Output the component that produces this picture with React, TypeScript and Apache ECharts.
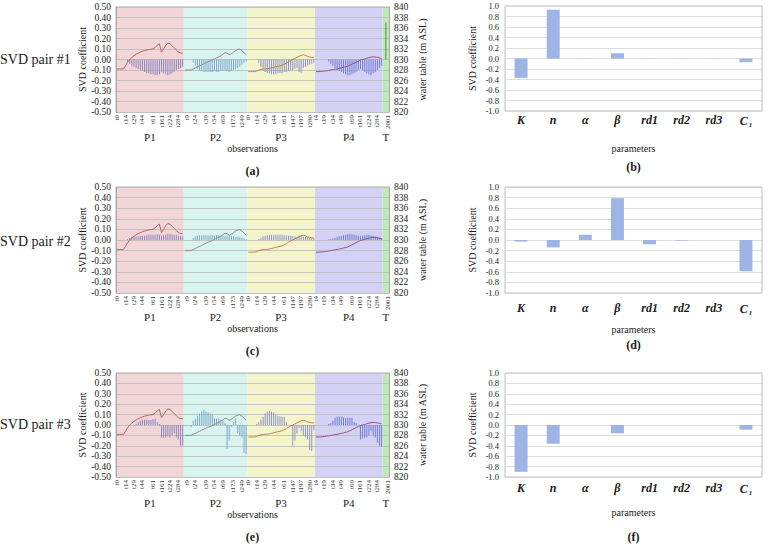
import React, { useEffect, useRef } from "react";
import * as echarts from "echarts";

const FONT = "'Liberation Serif','Times New Roman',Times,serif";

// ---------- observation axis ----------
const PERIOD_NAMES = ["P1", "P2", "P3", "P4", "T"];
const PERIOD_SIZES = [32, 30, 32, 32, 3];
const P1_TICKS = ["t0", "t14", "t29", "t44", "t61", "t161", "t224", "t284"];
const P2_TICKS = ["t9", "t24", "t39", "t54", "t69", "t173", "t249"];
const P3_TICKS = ["t0", "t14", "t29", "t44", "t61", "t147", "t197", "t280"];
const P4_TICKS = ["t4", "t19", "t34", "t49", "t69", "t161", "t224", "t284"];
const T_TICKS = ["2001"];
const TICK_LABELS = [P1_TICKS, P2_TICKS, P3_TICKS, P4_TICKS, T_TICKS];
const TICK_OBS = [
  [0, 4, 8, 12, 17, 21, 25, 29],
  [1, 5, 10, 14, 18, 23, 27],
  [0, 4, 8, 12, 17, 21, 25, 29],
  [0, 4, 8, 12, 17, 21, 25, 29],
  [2],
];

// ---------- water table (m ASL) ----------
const WT_P1 = [828.2, 828.2, 828.2, 828.2, 828.8, 829.5, 830.0, 830.4, 830.7, 831.0, 831.2, 831.4, 831.56, 831.7, 831.8, 831.9, 831.96, 832.0, 832.3, 832.7, 833.0, 831.4, 832.0, 832.7, 833.1, 833.0, 832.6, 832.2, 831.8, 831.4, 831.24, 831.2];
const WT_P2 = [828.0, 828.0, 828.0, 828.0, 828.2, 828.4, 828.6, 828.8, 829.0, 829.2, 829.4, 829.6, 829.7, 829.9, 830.1, 830.3, 830.5, 830.7, 831.0, 831.3, 831.2, 830.9, 831.1, 831.4, 831.7, 831.9, 832.0, 831.7, 831.3, 830.9];
const WT_P3 = [827.7, 827.7, 827.7, 827.7, 827.8, 828.0, 828.1, 828.2, 828.2, 828.24, 828.3, 828.4, 828.5, 828.6, 828.7, 828.8, 828.9, 829.1, 829.3, 829.6, 829.8, 830.0, 830.2, 830.4, 830.6, 830.8, 830.9, 830.8, 830.6, 830.5, 830.4, 830.4];
const WT_P4 = [827.7, 827.7, 827.72, 827.76, 827.8, 827.84, 827.92, 828.0, 828.06, 828.14, 828.2, 828.3, 828.4, 828.5, 828.6, 828.7, 828.9, 829.1, 829.3, 829.5, 829.7, 829.9, 830.0, 830.1, 830.24, 830.36, 830.44, 830.5, 830.48, 830.4, 830.3, 830.2];
const WT = [WT_P1, WT_P2, WT_P3, WT_P4];

// ---------- SVD pair #1 (observation coefficients) ----------
const U1_P1 = [0, 0, 0, 0, 0, -0.02, -0.04, -0.06, -0.07, -0.08, -0.09, -0.1, -0.11, -0.12, -0.13, -0.13, -0.14, -0.14, -0.15, -0.15, -0.14, -0.12, -0.13, -0.14, -0.15, -0.14, -0.13, -0.12, -0.1, -0.09, -0.08, -0.07];
const U1_P2 = [0, 0, 0, 0, -0.03, -0.06, -0.09, -0.1, -0.11, -0.12, -0.12, -0.12, -0.12, -0.12, -0.11, -0.12, -0.12, -0.11, -0.11, -0.1, -0.11, -0.12, -0.11, -0.1, -0.09, -0.08, -0.07, -0.05, -0.03, -0.02];
const U1_P3 = [0, 0, 0, 0, 0, -0.03, -0.07, -0.1, -0.12, -0.13, -0.13, -0.14, -0.14, -0.14, -0.13, -0.13, -0.13, -0.12, -0.12, -0.11, -0.1, -0.1, -0.09, -0.08, -0.12, -0.13, -0.08, -0.07, -0.06, -0.05, -0.04, -0.03];
const U1_P4 = [0, 0, 0, 0, 0, 0, -0.02, -0.04, -0.06, -0.08, -0.1, -0.11, -0.12, -0.13, -0.14, -0.15, -0.15, -0.14, -0.13, -0.12, -0.1, -0.09, -0.1, -0.12, -0.13, -0.14, -0.15, -0.13, -0.12, -0.1, -0.08, -0.06];
const U1_T = [0, 0.35, 0];

// ---------- SVD pair #2 ----------
const U2_P1 = [0, 0, 0, 0, 0, 0.01, 0.02, 0.03, 0.03, 0.03, 0.035, 0.04, 0.04, 0.04, 0.045, 0.05, 0.05, 0.05, 0.05, 0.055, 0.05, 0.04, 0.045, 0.05, 0.06, 0.06, 0.05, 0.05, 0.045, 0.04, 0.04, 0.035];
const U2_P2 = [0, 0, 0, 0, 0.02, 0.035, 0.04, 0.045, 0.045, 0.045, 0.045, 0.045, 0.045, 0.045, 0.04, 0.045, 0.045, 0.04, 0.04, 0.04, 0.04, 0.045, 0.04, 0.035, 0.03, 0.03, 0.025, 0.02, 0.015, 0.01];
const U2_P3 = [0, 0, 0, 0, 0, 0.01, 0.02, 0.035, 0.04, 0.045, 0.05, 0.05, 0.05, 0.05, 0.05, 0.05, 0.05, 0.045, 0.045, 0.04, 0.04, 0.035, 0.035, 0.03, 0.045, 0.045, 0.03, 0.03, 0.025, 0.02, 0.02, 0.015];
const U2_P4 = [0, 0, 0, 0, 0, 0, 0.005, 0.01, 0.015, 0.02, 0.03, 0.035, 0.04, 0.045, 0.05, 0.055, 0.06, 0.055, 0.05, 0.045, 0.04, 0.035, 0.04, 0.045, 0.05, 0.05, 0.045, 0.04, 0.035, 0.03, 0.025, 0.02];
const U2_T = [0, 0, 0];

// ---------- SVD pair #3 ----------
const U3_P1 = [0, 0, 0, 0, 0, 0, 0, 0, 0, 0.01, 0.03, 0.04, 0.05, 0.05, 0.05, 0.05, 0.05, 0.055, 0.06, 0.03, 0.01, -0.12, -0.12, -0.12, -0.11, -0.12, -0.1, -0.08, -0.12, -0.14, -0.2, -0.2];
const U3_P2 = [0, 0, 0, -0.02, 0.04, 0.06, 0.09, 0.11, 0.13, 0.145, 0.13, 0.12, 0.11, 0.1, 0.07, 0.06, 0.06, 0.05, 0.04, 0.02, -0.23, -0.15, -0.02, 0.03, 0.06, -0.08, -0.1, -0.12, -0.27, -0.28];
const U3_P3 = [0, 0, 0, 0, 0.01, 0.03, 0.05, 0.08, 0.11, 0.13, 0.135, 0.13, 0.12, 0.1, 0.09, 0.085, 0.08, 0.08, 0.03, 0, 0, -0.2, -0.15, -0.08, -0.03, -0.06, -0.1, -0.12, -0.14, -0.24, -0.25, -0.05];
const U3_P4 = [0, 0, 0, 0, 0, 0, 0.01, 0.02, 0.04, 0.07, 0.08, 0.08, 0.08, 0.075, 0.07, 0.07, 0.07, 0.07, 0.03, 0.02, 0, -0.14, -0.13, -0.12, -0.12, -0.1, -0.06, -0.1, -0.12, -0.17, -0.2, -0.21];
const U3_T = [0, 0, 0];

// ---------- parameter coefficients ----------
const PARAMS = ["K", "n", "α", "β", "rd1", "rd2", "rd3", "C1"];
const V1 = [-0.37, 0.93, 0.005, 0.1, -0.005, -0.003, -0.002, -0.07];
const V2 = [-0.03, -0.14, 0.1, 0.79, -0.08, -0.01, 0, -0.59];
const V3 = [-0.9, -0.36, 0, -0.16, 0, 0, 0, -0.09];

// ---------- styling ----------
const BAND_COLORS = ["#f2d5d6", "#d7f4ee", "#f4f4cc", "#d3d1f4", "#bfe9b6"];
const BAR_COLORS = ["#8d86bf", "#7fa7cf", "#8d93cc", "#737cd2", "#3f9b3f"];
const LINE_COLORS = ["#b0675e", "#96898a", "#bb8448", "#945289"];
const PARAM_BAR = "#9eb4e4";

const fmt = (v: number, d: number) => (Math.abs(v) < 1e-9 ? 0 : v).toFixed(d);

export default function App() {
  const ref = useRef<HTMLDivElement>(null);
  useEffect(() => {
    if (!ref.current) return;
    const chart = echarts.init(ref.current, undefined, { renderer: "svg" });

    const offsets: number[] = [];
    let acc = 0;
    PERIOD_SIZES.forEach((s) => {
      offsets.push(acc);
      acc += s;
    });
    const TOTAL = acc;
    const cats = Array.from({ length: TOTAL }, (_, i) => String(i));
    const obsLabels: string[] = Array(TOTAL).fill("");
    TICK_LABELS.forEach((lbls, p) =>
      lbls.forEach((l, k) => {
        obsLabels[offsets[p] + TICK_OBS[p][k]] = l;
      })
    );

    const grids: any[] = [];
    const xAxes: any[] = [];
    const yAxes: any[] = [];
    const series: any[] = [];
    const graphics: any[] = [];

    const L = { left: 116, width: 273 };
    const R = { left: 505, width: 257 };
    const leftTops = [7, 187, 373];
    const leftHeights = [105, 106, 104];
    const rightTops = [6, 187, 373];
    const rightHeights = [105, 106, 104];
    const pairY = [59, 241, 424];
    const leftCaps = ["(a)", "(c)", "(e)"];
    const rightCaps = ["(b)", "(d)", "(f)"];
    const leftBars = [
      [U1_P1, U1_P2, U1_P3, U1_P4, U1_T],
      [U2_P1, U2_P2, U2_P3, U2_P4, U2_T],
      [U3_P1, U3_P2, U3_P3, U3_P4, U3_T],
    ];
    const rightVals = [V1, V2, V3];
    const rightLabelMargin = [3, 9, 5];
    const rightParamY = [148, 329, 512];
    const rightCapY = [167, 345, 537];

    const txt = (x: number, y: number, text: string, opts: any = {}) => ({
      type: "text",
      x,
      y,
      rotation: opts.rotation || 0,
      silent: true,
      style: {
        text,
        fill: "#1a1a1a",
        font: `${opts.fontWeight || "normal"} ${opts.fontSize || 10}px ${FONT}`,
        align: opts.align || "center",
        verticalAlign: "middle",
      },
    });

    for (let k = 0; k < 3; k++) {
      // ---------- left panel ----------
      const gi = grids.length;
      grids.push({
        left: L.left,
        top: leftTops[k],
        width: L.width,
        height: leftHeights[k],
        show: true,
        borderColor: "#9a9a9a",
        borderWidth: 0.8,
        backgroundColor: "transparent",
      });
      const cx = xAxes.length;
      xAxes.push({
        type: "category",
        gridIndex: gi,
        data: cats,
        boundaryGap: true,
        axisLine: { show: false },
        axisTick: { show: false },
        axisLabel: {
          interval: 0,
          rotate: 90,
          fontSize: 7,
          fontFamily: FONT,
          color: "#333",
          margin: 3,
          formatter: (_v: string, i: number) => obsLabels[i],
        },
        splitLine: { show: false },
      });
      const hx = xAxes.length;
      xAxes.push({ type: "value", gridIndex: gi, min: 0, max: TOTAL, show: false });
      const yl = yAxes.length;
      yAxes.push({
        type: "value",
        gridIndex: gi,
        position: "left",
        min: -0.5,
        max: 0.5,
        interval: 0.1,
        z: 3,
        axisLine: { show: true, lineStyle: { color: "#9a9a9a", width: 0.8 } },
        axisTick: { show: false },
        axisLabel: { fontSize: 9.5, fontFamily: FONT, color: "#222", margin: 5, formatter: (v: number) => fmt(v, 2) },
        splitLine: { show: true, lineStyle: { color: "#b9b9b9", width: 0.8 } },
      });
      const yr = yAxes.length;
      yAxes.push({
        type: "value",
        gridIndex: gi,
        position: "right",
        min: 820,
        max: 840,
        interval: 2,
        axisLine: { show: true, lineStyle: { color: "#9a9a9a", width: 0.8 } },
        axisTick: { show: false },
        axisLabel: { fontSize: 9.5, fontFamily: FONT, color: "#222", margin: 5 },
        splitLine: { show: false },
      });
      // period backgrounds
      series.push({
        type: "line",
        xAxisIndex: hx,
        yAxisIndex: yl,
        data: [],
        silent: true,
        z: 1,
        markArea: {
          silent: true,
          data: PERIOD_SIZES.map((s, p) => [
            { xAxis: offsets[p], itemStyle: { color: BAND_COLORS[p] } },
            { xAxis: offsets[p] + s },
          ]),
        },
      });
      // SVD coefficient bars
      const barData: any[] = [];
      leftBars[k].forEach((arr, p) =>
        arr.forEach((v) => barData.push({ value: v, itemStyle: { color: BAR_COLORS[p] } }))
      );
      series.push({
        type: "bar",
        xAxisIndex: cx,
        yAxisIndex: yl,
        data: barData,
        barWidth: 1,
        z: 4,
        silent: true,
      });
      // water table lines
      WT.forEach((arr, p) => {
        const d: (number | null)[] = Array(TOTAL).fill(null);
        arr.forEach((v, i) => (d[offsets[p] + i] = v));
        series.push({
          type: "line",
          xAxisIndex: cx,
          yAxisIndex: yr,
          data: d,
          showSymbol: false,
          symbol: "none",
          connectNulls: false,
          lineStyle: { color: LINE_COLORS[p], width: 1 },
          z: 5,
          silent: true,
        });
      });

      const top = leftTops[k];
      const h = leftHeights[k];
      const step = L.width / TOTAL;
      PERIOD_NAMES.forEach((name, p) => {
        const cxp = L.left + (offsets[p] + PERIOD_SIZES[p] / 2) * step;
        graphics.push(txt(cxp, top + 130, name, { fontSize: 11 }));
      });
      graphics.push(txt(L.left + L.width / 2, top + 141, "observations", { fontSize: 10 }));
      graphics.push(txt(L.left + L.width / 2, top + 164, leftCaps[k], { fontSize: 12, fontWeight: "bold" }));
      graphics.push(txt(82, top + h / 2, "SVD coefficient", { fontSize: 10, rotation: Math.PI / 2 }));
      graphics.push(txt(422, top + h / 2, "water table (m ASL)", { fontSize: 10, rotation: Math.PI / 2 }));
      graphics.push(txt(0, pairY[k], "SVD pair #" + (k + 1), { fontSize: 14, align: "left" }));

      // ---------- right panel ----------
      const gj = grids.length;
      grids.push({
        left: R.left,
        top: rightTops[k],
        width: R.width,
        height: rightHeights[k],
        show: true,
        borderColor: "#a8a8a8",
        borderWidth: 0.8,
        backgroundColor: "transparent",
      });
      const rx = xAxes.length;
      xAxes.push({
        type: "category",
        gridIndex: gj,
        data: PARAMS,
        axisLine: { show: false },
        axisTick: { show: false },
        axisLabel: {
          interval: 0,
          margin: rightLabelMargin[k],
          formatter: (v: string) => (v === "C1" ? "{p|C}{s|1}" : "{p|" + v + "}"),
          rich: {
            p: { fontFamily: FONT, fontSize: 12, fontWeight: "bold", fontStyle: "italic", color: "#1a1a1a" },
            s: { fontFamily: FONT, fontSize: 7, fontWeight: "bold", fontStyle: "italic", color: "#1a1a1a", padding: [7, 0, 0, 1] },
          },
        },
      });
      const ry = yAxes.length;
      yAxes.push({
        type: "value",
        gridIndex: gj,
        min: -1,
        max: 1,
        interval: 0.2,
        axisLine: { show: false },
        axisTick: { show: false },
        axisLabel: { fontSize: 8.5, fontFamily: FONT, color: "#222", margin: 6, formatter: (v: number) => fmt(v, 1) },
        splitLine: { show: true, lineStyle: { color: "#d4d4d4", width: 0.8 } },
      });
      series.push({
        type: "bar",
        xAxisIndex: rx,
        yAxisIndex: ry,
        data: rightVals[k],
        barWidth: 13,
        itemStyle: { color: PARAM_BAR },
        silent: true,
        z: 3,
      });
      const rt = rightTops[k];
      graphics.push(txt(472, rt + rightHeights[k] / 2, "SVD coefficient", { fontSize: 10, rotation: Math.PI / 2 }));
      graphics.push(txt(R.left + R.width / 2, rightParamY[k], "parameters", { fontSize: 10 }));
      graphics.push(txt(R.left + R.width / 2, rightCapY[k], rightCaps[k], { fontSize: 12, fontWeight: "bold" }));
    }

    chart.setOption({
      animation: false,
      backgroundColor: "#ffffff",
      textStyle: { fontFamily: FONT },
      grid: grids,
      xAxis: xAxes,
      yAxis: yAxes,
      series,
      graphic: graphics,
    });
    return () => chart.dispose();
  }, []);
  return (
    <div
      ref={ref}
      style={{ position: "fixed", left: 0, top: 0, width: 771, height: 554, background: "#fff" }}
    />
  );
}
